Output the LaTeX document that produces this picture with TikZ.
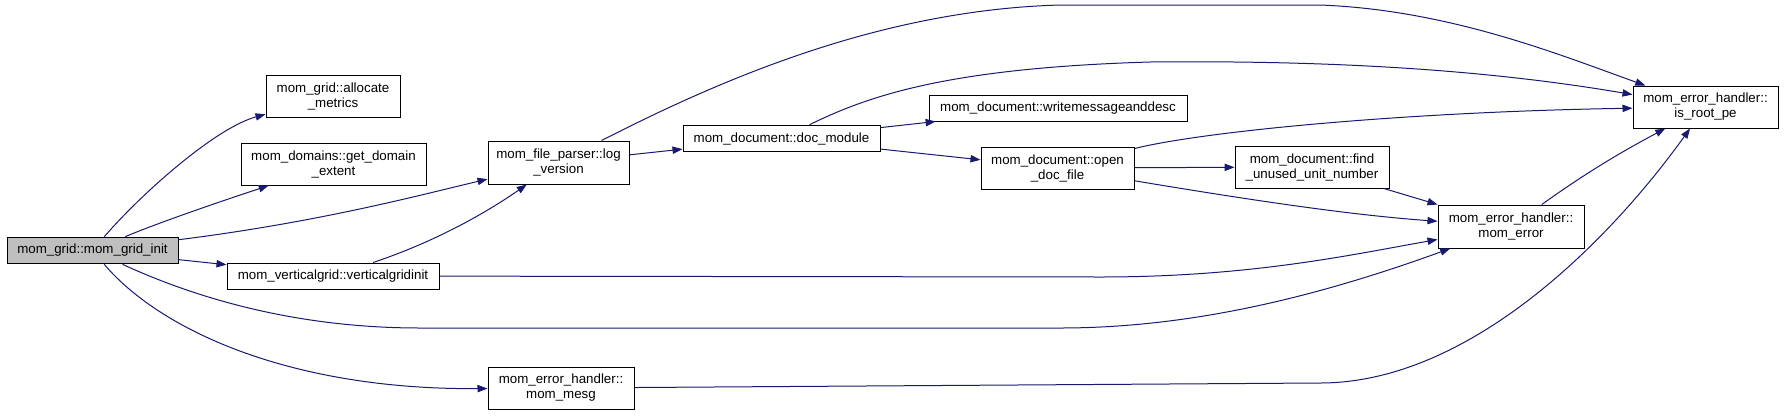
\documentclass[tikz,border=0pt]{standalone}
\usepackage{fontspec}
\setmainfont{Liberation Sans}
\usetikzlibrary{arrows.meta}

\definecolor{callblue}{RGB}{25,25,112}
\definecolor{rootgray}{RGB}{191,191,191}

\tikzset{every picture/.style={line width=0.75pt}}
\tikzset{
  fn/.style={draw=black, fill=white, inner sep=0pt, minimum height=20pt, align=center, font=\fontsize{10}{11.25}\selectfont},
  fntall/.style={fn, minimum height=31.5pt},
  callarrow/.style={draw=callblue, -{Triangle[length=7.5pt,width=5.5pt]}}
}

\begin{document}
\begin{tikzpicture}[x=0.75pt,y=0.75pt,yscale=-1,xscale=1]
\useasboundingbox (0,0) rectangle (1784,415);

% Functions
\node[fn, fill=rootgray, minimum width=128.25pt] (init) at (92.5,250.5) {mom\_grid::mom\_grid\_init};
\node[fntall, minimum width=100.5pt] (alloc) at (333,96) {mom\_grid::allocate\\\_metrics};
\node[fntall, minimum width=138.75pt] (domain) at (333.5,164) {mom\_domains::get\_domain\\\_extent};
\node[fntall, minimum width=105.75pt, minimum height=32.25pt] (logv) at (558.5,162.5) {mom\_file\_parser::log\\\_version};
\node[fn, minimum width=159pt, minimum height=19.5pt] (vgrid) at (333,276) {mom\_verticalgrid::verticalgridinit};
\node[fntall, minimum width=109.5pt] (mesg) at (561,388) {mom\_error\_handler::\\mom\_mesg};
\node[fn, minimum width=147.75pt] (docmod) at (781.5,138.5) {mom\_document::doc\_module};
\node[fn, minimum width=193.5pt, minimum height=19.5pt] (writemsg) at (1058,108) {mom\_document::writemessageanddesc};
\node[fntall, minimum width=114.75pt] (opendoc) at (1057.5,168) {mom\_document::open\\\_doc\_file};
\node[fntall, minimum width=115.5pt] (findunit) at (1312,167) {mom\_document::find\\\_unused\_unit\_number};
\node[fntall, minimum width=109.5pt, minimum height=32.25pt] (momerr) at (1511,226.5) {mom\_error\_handler::\\mom\_error};
\node[fntall, minimum width=108.75pt] (isroot) at (1705.5,107) {mom\_error\_handler::\\is\_root\_pe};

% Calls from mom_grid_init
\draw[callarrow] (init) .. controls (140,195) and (215,128) .. (alloc);
\draw[callarrow] (init) .. controls (160,222) and (225,200) .. (domain);
\draw[callarrow] (init) .. controls (320,222) and (420,195) .. (logv);
\draw[callarrow] (init) -- (vgrid);
\draw[callarrow] (init) .. controls (200,300) and (300,328) .. (420,328) -- (1060,328) .. controls (1200,328) and (1330,292) .. (momerr);
\draw[callarrow] (init) .. controls (160,330) and (290,390) .. (mesg);

% Calls further down
\draw[callarrow] (vgrid) .. controls (440,240) and (490,210) .. (logv);
\draw[callarrow] (vgrid) -- (1100,277) .. controls (1250,277) and (1350,255) .. (momerr);
\draw[callarrow] (logv) -- (docmod);
\draw[callarrow] (logv) .. controls (720,80) and (880,10) .. (1060,5) -- (1320,5) .. controls (1450,10) and (1560,55) .. (isroot);
\draw[callarrow] (docmod) -- (writemsg);
\draw[callarrow] (docmod) -- (opendoc);
\draw[callarrow] (docmod) .. controls (870,95) and (950,68) .. (1150,62) .. controls (1350,60) and (1500,72) .. (isroot);
\draw[callarrow] (opendoc) -- (findunit);
\draw[callarrow] (opendoc) .. controls (1250,200) and (1350,215) .. (momerr);
\draw[callarrow] (opendoc) .. controls (1200,132) and (1400,112) .. (isroot);
\draw[callarrow] (findunit) -- (momerr);
\draw[callarrow] (momerr) .. controls (1590,170) and (1625,150) .. (isroot);
\draw[callarrow] (mesg) -- (1320,383) .. controls (1470,383) and (1610,240) .. (isroot);

\end{tikzpicture}
\end{document}
